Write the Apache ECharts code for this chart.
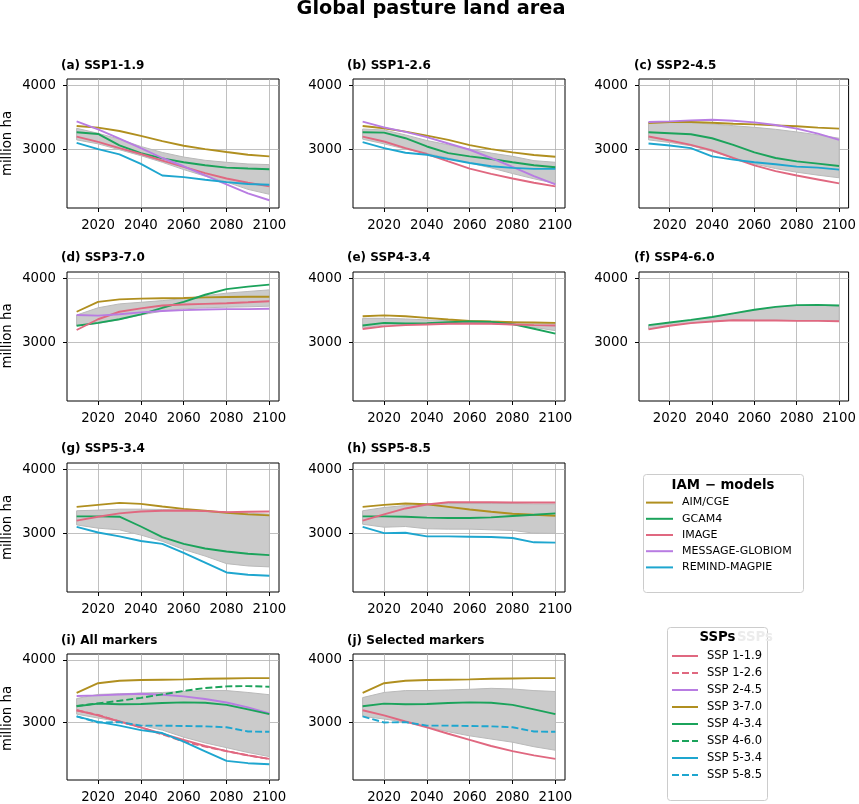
<!DOCTYPE html>
<html><head><meta charset="utf-8">
<script src="https://cdn.jsdelivr.net/npm/echarts@6/dist/echarts.min.js"></script>
<style>html,body{margin:0;padding:0;background:#fff}#c{width:859px;height:804px}</style>
</head><body><div id="c"></div>
<script>
const years = [2010,2020,2030,2040,2050,2060,2070,2080,2090,2100];
const xTicks = [2020,2040,2060,2080,2100];
const yTicks = [3000,4000];
const models = ['AIM/CGE','GCAM4','IMAGE','MESSAGE-GLOBIOM','REMIND-MAGPIE'];
const ssps = ['SSP 1-1.9','SSP 1-2.6','SSP 2-4.5','SSP 3-7.0','SSP 4-3.4','SSP 4-6.0','SSP 5-3.4','SSP 5-8.5'];
const panelTitles = ['(a) SSP1-1.9','(b) SSP1-2.6','(c) SSP2-4.5','(d) SSP3-7.0','(e) SSP4-3.4','(f) SSP4-6.0','(g) SSP5-3.4','(h) SSP5-8.5','(i) All markers','(j) Selected markers'];

// (a) SSP1-1.9
const a_AIM = [3361,3335,3283,3206,3124,3052,3000,2954,2912,2887];
const a_GCAM = [3263,3237,3057,2938,2856,2794,2747,2711,2696,2686];
const a_IMAGE = [3196,3113,3015,2923,2820,2722,2624,2541,2474,2417];
const a_MESSAGE = [3433,3309,3165,3015,2861,2732,2588,2448,2309,2201];
const a_REMIND = [3098,3000,2918,2768,2588,2562,2521,2485,2454,2443];
const a_lo = [3144,3082,2990,2897,2794,2680,2577,2485,2371,2294];
const a_hi = [3325,3247,3155,3041,2948,2876,2825,2794,2768,2758];
// (b) SSP1-2.6
const b_AIM = [3361,3325,3273,3211,3144,3062,3000,2948,2907,2881];
const b_GCAM = [3263,3258,3170,3041,2938,2887,2845,2794,2747,2716];
const b_IMAGE = [3196,3119,3015,2923,2809,2696,2613,2541,2474,2417];
const b_MESSAGE = [3428,3340,3268,3186,3088,2990,2861,2722,2577,2448];
const b_REMIND = [3108,3015,2943,2912,2845,2783,2732,2706,2691,2691];
const b_lo = [3155,3082,3000,2933,2861,2783,2706,2618,2536,2464];
const b_hi = [3314,3299,3222,3134,3067,3000,2938,2887,2820,2794];
// (c) SSP2-4.5
const c_AIM = [3407,3423,3423,3412,3397,3387,3371,3356,3335,3320];
const c_GCAM = [3263,3247,3232,3170,3067,2948,2861,2809,2773,2737];
const c_IMAGE = [3196,3134,3067,2979,2861,2747,2655,2588,2526,2464];
const c_MESSAGE = [3423,3433,3448,3459,3443,3418,3376,3320,3242,3144];
const c_REMIND = [3088,3057,3015,2887,2835,2794,2763,2727,2711,2680];
const c_lo = [3144,3103,3052,2964,2861,2768,2696,2639,2593,2552];
const c_hi = [3423,3412,3412,3392,3366,3340,3309,3268,3222,3170];
// (d) SSP3-7.0
const d_AIM = [3474,3628,3668,3679,3684,3689,3699,3704,3709,3709];
const d_GCAM = [3255,3301,3357,3434,3536,3628,3740,3827,3867,3898];
const d_IMAGE = [3189,3357,3474,3526,3571,3587,3597,3607,3622,3638];
const d_MESSAGE = [3423,3413,3434,3464,3485,3500,3510,3515,3515,3520];
const d_lo = [3255,3291,3352,3423,3485,3520,3536,3546,3551,3561];
const d_hi = [3423,3536,3597,3622,3648,3679,3724,3765,3791,3816];
// (e) SSP4-3.4
const e_AIM = [3403,3418,3403,3378,3352,3332,3321,3311,3306,3301];
const e_GCAM = [3260,3301,3291,3296,3311,3321,3316,3281,3209,3133];
const e_IMAGE = [3204,3245,3265,3276,3286,3291,3286,3276,3265,3260];
const e_lo = [3219,3265,3276,3276,3286,3291,3286,3270,3230,3179];
const e_hi = [3372,3372,3362,3347,3337,3332,3326,3316,3306,3301];
// (f) SSP4-6.0
const f_GCAM = [3265,3306,3347,3393,3449,3505,3551,3577,3582,3571];
const f_IMAGE = [3199,3255,3296,3321,3342,3337,3337,3332,3332,3326];
const f_lo = [3205,3260,3300,3325,3345,3340,3340,3335,3335,3330];
const f_hi = [3258,3300,3342,3388,3444,3500,3545,3570,3575,3565];
// (g) SSP5-3.4
const g_AIM = [3410,3441,3472,3456,3415,3379,3349,3318,3292,3277];
const g_GCAM = [3262,3262,3256,3103,2938,2831,2759,2713,2677,2656];
const g_IMAGE = [3195,3256,3308,3338,3349,3354,3344,3328,3333,3338];
const g_REMIND = [3097,3010,2949,2877,2831,2692,2538,2385,2349,2333];
const g_lo = [3128,3077,3051,2969,2872,2744,2641,2523,2487,2472];
const g_hi = [3349,3359,3374,3374,3369,3359,3344,3328,3313,3297];
// (h) SSP5-8.5
const h_AIM = [3410,3441,3462,3451,3410,3369,3333,3303,3287,3272];
const h_GCAM = [3262,3262,3256,3241,3236,3236,3246,3267,3287,3308];
const h_IMAGE = [3195,3292,3385,3446,3482,3482,3482,3477,3477,3477];
const h_REMIND = [3097,3000,3005,2949,2949,2944,2938,2923,2856,2851];
const h_lo = [3138,3092,3103,3067,3062,3062,3051,3041,3000,2995];
const h_hi = [3349,3400,3431,3451,3462,3462,3462,3462,3456,3456];
// (i) all markers band, (j) selected markers band
const i_lo = [3133,3071,3015,2954,2878,2765,2673,2597,2520,2454];
const i_hi = [3383,3449,3459,3470,3480,3495,3510,3510,3480,3444];
const j_lo = [3097,3056,3005,2929,2852,2786,2735,2684,2612,2556];
const j_hi = [3398,3480,3510,3510,3520,3531,3546,3536,3510,3495];

const COL = {'AIM/CGE':'#b08f1f','GCAM4':'#1ba35b','IMAGE':'#e06880','MESSAGE-GLOBIOM':'#b87ce2','REMIND-MAGPIE':'#1ea6cf'};
const SSPSTYLE = {
  'SSP 1-1.9':[COL['IMAGE'],false],'SSP 1-2.6':[COL['IMAGE'],true],
  'SSP 2-4.5':[COL['MESSAGE-GLOBIOM'],false],'SSP 3-7.0':[COL['AIM/CGE'],false],
  'SSP 4-3.4':[COL['GCAM4'],false],'SSP 4-6.0':[COL['GCAM4'],true],
  'SSP 5-3.4':[COL['REMIND-MAGPIE'],false],'SSP 5-8.5':[COL['REMIND-MAGPIE'],true]};

const panels = [
 {r:0,c:0,lo:a_lo,hi:a_hi,lines:[['AIM/CGE',a_AIM],['GCAM4',a_GCAM],['IMAGE',a_IMAGE],['MESSAGE-GLOBIOM',a_MESSAGE],['REMIND-MAGPIE',a_REMIND]]},
 {r:0,c:1,lo:b_lo,hi:b_hi,lines:[['AIM/CGE',b_AIM],['GCAM4',b_GCAM],['IMAGE',b_IMAGE],['MESSAGE-GLOBIOM',b_MESSAGE],['REMIND-MAGPIE',b_REMIND]]},
 {r:0,c:2,lo:c_lo,hi:c_hi,lines:[['AIM/CGE',c_AIM],['GCAM4',c_GCAM],['IMAGE',c_IMAGE],['MESSAGE-GLOBIOM',c_MESSAGE],['REMIND-MAGPIE',c_REMIND]]},
 {r:1,c:0,lo:d_lo,hi:d_hi,lines:[['AIM/CGE',d_AIM],['GCAM4',d_GCAM],['IMAGE',d_IMAGE],['MESSAGE-GLOBIOM',d_MESSAGE]]},
 {r:1,c:1,lo:e_lo,hi:e_hi,lines:[['AIM/CGE',e_AIM],['GCAM4',e_GCAM],['IMAGE',e_IMAGE]]},
 {r:1,c:2,lo:f_lo,hi:f_hi,lines:[['GCAM4',f_GCAM],['IMAGE',f_IMAGE]]},
 {r:2,c:0,lo:g_lo,hi:g_hi,lines:[['AIM/CGE',g_AIM],['GCAM4',g_GCAM],['IMAGE',g_IMAGE],['REMIND-MAGPIE',g_REMIND]]},
 {r:2,c:1,lo:h_lo,hi:h_hi,lines:[['AIM/CGE',h_AIM],['GCAM4',h_GCAM],['IMAGE',h_IMAGE],['REMIND-MAGPIE',h_REMIND]]},
 {r:3,c:0,lo:i_lo,hi:i_hi,ssp:true,lines:[['SSP 1-1.9',a_IMAGE],['SSP 1-2.6',b_IMAGE],['SSP 2-4.5',c_MESSAGE],['SSP 3-7.0',d_AIM],['SSP 4-3.4',e_GCAM],['SSP 4-6.0',f_GCAM],['SSP 5-3.4',g_REMIND],['SSP 5-8.5',h_REMIND]]},
 {r:3,c:1,lo:j_lo,hi:j_hi,ssp:true,lines:[['SSP 3-7.0',d_AIM],['SSP 4-3.4',e_GCAM],['SSP 1-1.9',a_IMAGE],['SSP 5-8.5',h_REMIND]]}
];

const FONT = 'DejaVu Sans';
const colL = [67,353,639], colW = 212;
const rowT = [79,272,463,654], rowH = 129;
const subY = [66,258,449,641];
const subX = [61,347,634];

const grids=[], xAxes=[], yAxes=[], series=[], graphics=[];
const pair = arr => years.map((y,k)=>[y,arr[k]]);
const plain = v => String(v);

panels.forEach((p,i)=>{
  grids.push({left:colL[p.c],top:rowT[p.r],width:colW,height:rowH,show:true,borderColor:'#000',borderWidth:1,backgroundColor:'transparent'});
  xAxes.push({gridIndex:i,type:'value',min:2005.5,max:2104.5,
    axisLine:{show:false},
    axisTick:{show:true,length:4,lineStyle:{color:'#000'},customValues:xTicks},
    axisLabel:{customValues:xTicks,formatter:plain,color:'#000',fontSize:13.3,fontFamily:FONT,margin:11},
    splitLine:{show:true,lineStyle:{color:'#b0b0b0',width:0.8}}});
  yAxes.push({gridIndex:i,type:'value',min:2080,max:4095,
    axisLine:{show:false},
    axisTick:{show:true,length:4,lineStyle:{color:'#000'},customValues:yTicks},
    axisLabel:{customValues:yTicks,formatter:plain,color:'#000',fontSize:13.3,fontFamily:FONT,margin:11},
    splitLine:{show:true,lineStyle:{color:'#b0b0b0',width:0.8}}});
  const lo=p.lo, hi=p.hi;
  series.push({type:'custom',name:'_band',xAxisIndex:i,yAxisIndex:i,silent:true,z:1,
    data:years.map((y,k)=>[y,lo[k],hi[k]]),
    encode:{x:0,y:[1,2]},
    renderItem:(params,api)=>{
      if(params.dataIndex!==0) return null;
      const pts=[];
      years.forEach((y,k)=>pts.push(api.coord([y,hi[k]])));
      for(let k=years.length-1;k>=0;k--) pts.push(api.coord([years[k],lo[k]]));
      return {type:'polygon',shape:{points:pts},style:{fill:'#cbcbcb',stroke:'#b9b9b9',lineWidth:1}};
    }});
  p.lines.forEach(([name,arr])=>{
    let color, dashed=false;
    if(p.ssp){ color=SSPSTYLE[name][0]; dashed=SSPSTYLE[name][1]; } else color=COL[name];
    series.push({type:'line',name:name,xAxisIndex:i,yAxisIndex:i,data:pair(arr),symbol:'none',z:3,
      color:color,lineStyle:{color:color,width:1.9,type:dashed?[7,3]:'solid'}});
  });
  graphics.push({type:'text',x:subX[p.c],y:subY[p.r],style:{text:panelTitles[i],fontSize:12,fontWeight:'bold',fontFamily:FONT,fill:'#000',align:'left',verticalAlign:'middle',textAlign:'left',textVerticalAlign:'middle'}});
});

[143.5,336,527.5,718.5].forEach(y=>{
  graphics.push({type:'text',x:8,y:y,rotation:Math.PI/2,style:{text:'million ha',fontSize:13.3,fontFamily:FONT,fill:'#000',align:'center',verticalAlign:'middle',textAlign:'center',textVerticalAlign:'middle'}});
});
graphics.push({type:'text',x:431,y:9,style:{text:'Global pasture land area',fontSize:19.3,fontWeight:'bold',fontFamily:FONT,fill:'#000',align:'center',verticalAlign:'middle',textAlign:'center',textVerticalAlign:'middle'}});
// legend frames and titles
graphics.push({type:'rect',z:0,shape:{x:643.5,y:474.5,width:160,height:118,r:3},style:{fill:'rgba(255,255,255,0.8)',stroke:'#cccccc',lineWidth:1}});
graphics.push({type:'text',x:723,y:486,style:{text:'IAM − models',fontSize:13.3,fontWeight:'bold',fontFamily:FONT,fill:'#000',align:'center',verticalAlign:'middle',textAlign:'center',textVerticalAlign:'middle'}});
graphics.push({type:'rect',z:0,shape:{x:667.5,y:627.5,width:100,height:173,r:3},style:{fill:'rgba(255,255,255,0.8)',stroke:'#cccccc',lineWidth:1}});
graphics.push({type:'text',x:737,y:638,style:{text:'SSPs',fontSize:13.3,fontWeight:'bold',fontFamily:FONT,fill:'#ececec',align:'left',verticalAlign:'middle',textAlign:'left',textVerticalAlign:'middle'}});
graphics.push({type:'text',x:717.5,y:638,style:{text:'SSPs',fontSize:13.3,fontWeight:'bold',fontFamily:FONT,fill:'#000',align:'center',verticalAlign:'middle',textAlign:'center',textVerticalAlign:'middle'}});

const option = {
  animation:false,
  grid:grids, xAxis:xAxes, yAxis:yAxes, series:series,
  graphic:{elements:graphics},
  legend:[
    {data:models,orient:'vertical',left:645,top:497,padding:0,itemWidth:27,itemHeight:14,itemGap:5,selectedMode:false,
     itemStyle:{opacity:0,borderWidth:0},
     textStyle:{fontSize:11,fontFamily:FONT,color:'#000',padding:[0,0,0,4]}},
    {data:ssps,orient:'vertical',left:671,top:650,padding:0,itemWidth:26,itemHeight:14,itemGap:5,selectedMode:false,
     itemStyle:{opacity:0,borderWidth:0},
     textStyle:{fontSize:11.5,fontFamily:FONT,color:'#000',padding:[0,0,0,4]}}
  ]
};
const chart = echarts.init(document.getElementById('c'));
chart.setOption(option);
</script></body></html>
